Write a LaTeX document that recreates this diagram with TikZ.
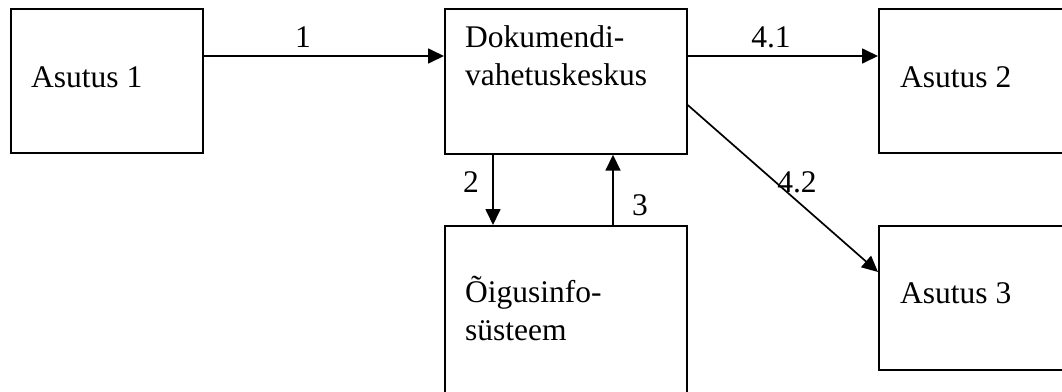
\documentclass[tikz,border=0pt]{standalone}
\usepackage{fontspec}
\setmainfont{Liberation Serif}
\usetikzlibrary{arrows.meta}
\begin{document}
\begin{tikzpicture}[x=1pt,y=-1pt,
  box/.style={draw, line width=1.7pt, rectangle, inner sep=0pt, anchor=north west},
  txt/.style={inner sep=0pt, anchor=base west, font=\fontsize{31.5}{37}\selectfont},
  lbl/.style={inner sep=0pt, anchor=base, font=\fontsize{31.5}{37}\selectfont},
  flow/.style={line width=1.7pt, -{Triangle[length=16pt,width=15pt]}}]
\useasboundingbox (0,0) rectangle (1062,391);
\clip (0,0) rectangle (1062,391);

% boxes
\node[box, minimum width=192, minimum height=144] (a1)  at (10,8)   {};
\node[box, minimum width=242, minimum height=145] (dvk) at (444,8)  {};
\node[box, minimum width=242, minimum height=180] (oig) at (444,225) {};
\node[box, minimum width=194, minimum height=144] (a2)  at (878,8)  {};
\node[box, minimum width=194, minimum height=144] (a3)  at (878,225) {};

% box texts
\node[txt] (ta1)  at (31,87)  {Asutus 1};
\node[txt] (tdvk1) at (465,47) {Dokumendi-};
\node[txt] (tdvk2) at (465,85) {vahetuskeskus};
\node[txt] (toig1) at (465,302) {Õigusinfo-};
\node[txt] (toig2) at (465,340) {süsteem};
\node[txt] (ta2)  at (900,87)  {Asutus 2};
\node[txt] (ta3)  at (900,303) {Asutus 3};

% connectors
\draw[flow] (a1.east |- 0,56) -- (dvk.west |- 0,56);
\draw[flow] (dvk.east |- 0,56) -- (a2.west |- 0,56);
\draw[flow] (dvk.east |- 0,105) -- (a3.west |- 0,272);
\draw[flow] (dvk.south -| 493,0) -- (oig.north -| 493,0);
\draw[flow] (oig.north -| 613,0) -- (dvk.south -| 613,0);

% connector labels
\node[lbl] (l1)  at (303,47)  {1};
\node[lbl] (l41) at (771,47)  {4.1};
\node[lbl] (l42) at (797,192) {4.2};
\node[lbl] (l2)  at (471,192) {2};
\node[lbl] (l3)  at (640,215) {3};
\end{tikzpicture}
\end{document}
